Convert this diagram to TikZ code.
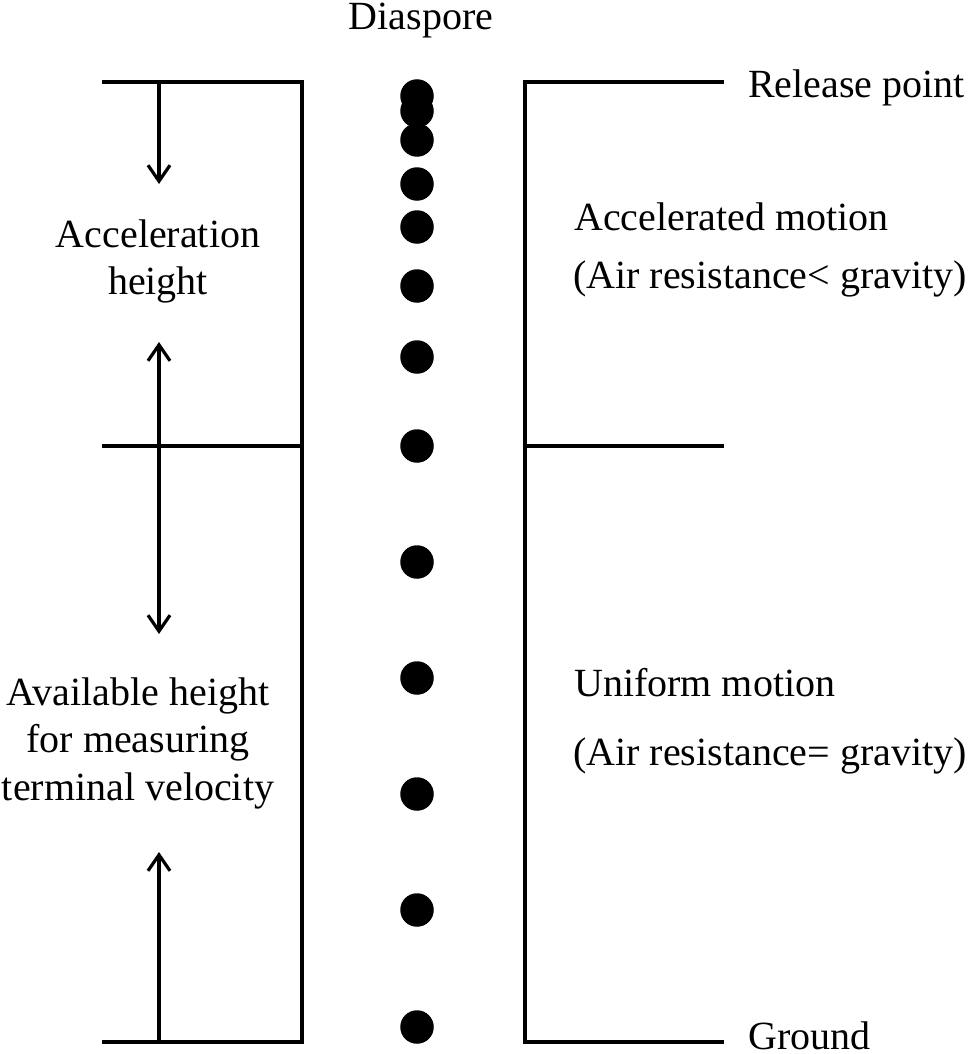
\documentclass[tikz,border=0pt]{standalone}
\usepackage{fontspec}
\setmainfont{Liberation Serif}
\usetikzlibrary{arrows.meta}
\begin{document}
\begin{tikzpicture}[x=1pt,y=-1pt,
  ln/.style={line width=3.2pt},
  tip/.tip={Straight Barb[length=16pt,width=22pt,line width=3.2pt]},
  arr/.style={ln,-tip},
  darr/.style={ln,tip-tip},
  dot/.style={circle,fill=black,minimum size=33.5pt,inner sep=0pt},
  lbl/.style={inner sep=0pt,font=\fontsize{40}{47}\selectfont},
  mlbl/.style={lbl,align=center,anchor=base}]
\useasboundingbox (0,0) rectangle (969,1054);
\fill[white] (0,0) rectangle (969,1054);
% bracket coordinates
\coordinate (LT) at (102,82);  \coordinate (LTc) at (302,82);
\coordinate (LM) at (102,446); \coordinate (LMc) at (302,446);
\coordinate (LB) at (102,1042);\coordinate (LBc) at (302,1042);
\coordinate (RT) at (724,82);  \coordinate (RTc) at (525,82);
\coordinate (RM) at (724,446); \coordinate (RMc) at (525,446);
\coordinate (RB) at (724,1042);\coordinate (RBc) at (525,1042);
\draw[ln] (LT) -- (LTc) -- (LBc) -- (LB);
\draw[ln] (LM) -- (LMc);
\draw[ln] (RT) -- (RTc) -- (RBc) -- (RB);
\draw[ln] (RMc) -- (RM);
% arrows
\coordinate (A1s) at (159,82);   \coordinate (A1e) at (159,184);
\coordinate (A2s) at (159,342);  \coordinate (A2e) at (159,634);
\coordinate (A3s) at (159,1042); \coordinate (A3e) at (159,852);
\draw[arr] (A1s) -- (A1e);
\draw[darr] (A2s) -- (A2e);
\draw[arr] (A3s) -- (A3e);
% dots
\foreach \i/\y in {1/96,2/111,3/140,4/184,5/227,6/286,7/357,8/446,9/562,10/678,11/794,12/910,13/1027}
  \node[dot] (d\i) at (417,\y) {};
% labels
\node[lbl,anchor=base] (dia) at (421,29.5) {Diaspore};
\node[lbl,anchor=base west] (rel) at (748,98) {Release point};
\node[lbl,anchor=base west] (gnd) at (748,1049) {Ground};
\node[lbl,anchor=base west] (acc) at (574,230) {Accelerated motion};
\node[lbl,anchor=base west] (accn) at (573,288) {(Air resistance< gravity)};
\node[lbl,anchor=base west] (uni) at (574,696) {Uniform motion};
\node[lbl,anchor=base west] (unin) at (573,765) {(Air resistance= gravity)};
\node[mlbl] (acch) at (158,294) {Acceleration\\height};
\node[mlbl,font=\fontsize{40}{47.5}\selectfont] (avh) at (138,800) {Available height\\for measuring\\terminal velocity};
\end{tikzpicture}
\end{document}
